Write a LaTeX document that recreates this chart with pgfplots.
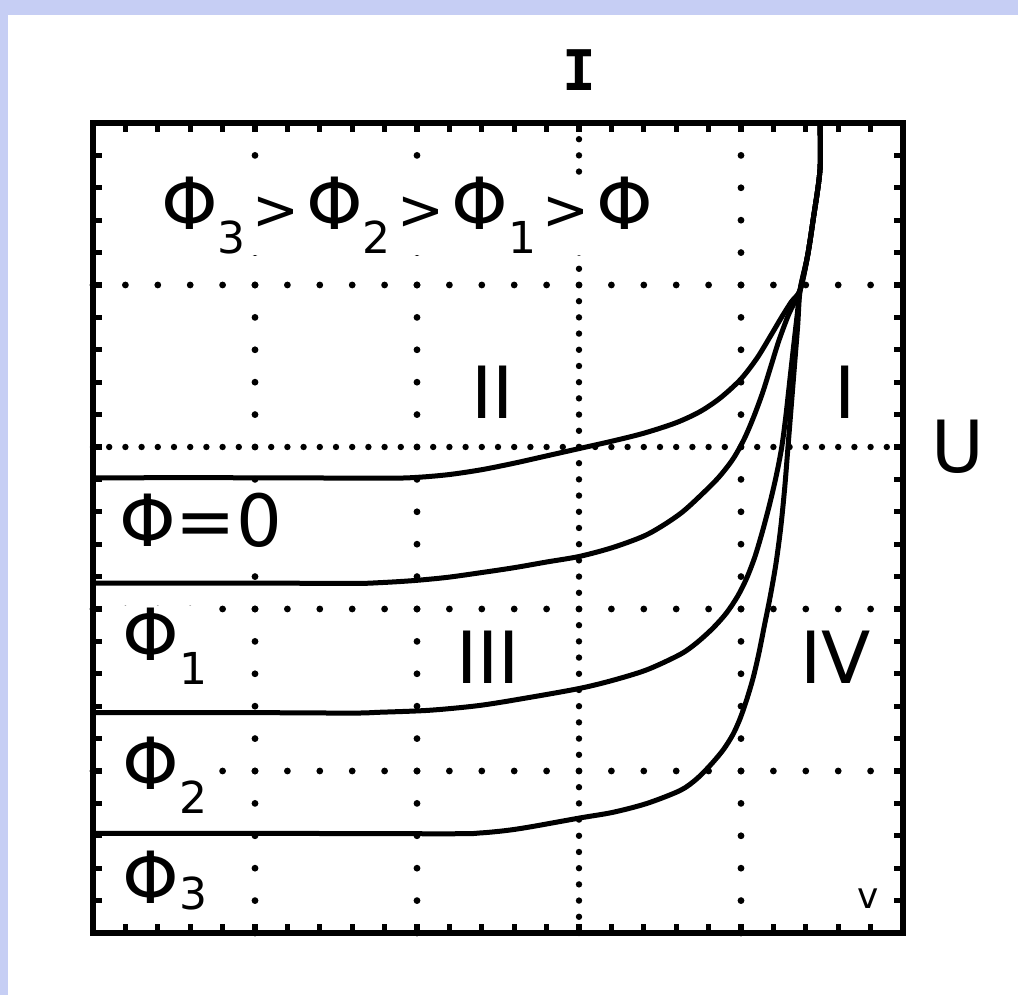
\documentclass[border=0pt]{standalone}
\usepackage{fontspec}
\setmainfont{DejaVu Sans}
\newfontfamily\monofont{DejaVu Sans Mono}
\usepackage{pgfplots}
\pgfplotsset{compat=1.18}
\definecolor{framebg}{RGB}{198,206,244}

\newcommand\lbl{\fontsize{18}{18}\selectfont}
\newcommand\sub[1]{\raisebox{-6pt}{\fontsize{11}{11}\selectfont #1}}
\newcommand\gt{\kern1.7pt{\fontsize{14}{14}\selectfont >}\kern1.7pt}

\begin{document}
\begin{tikzpicture}
% page with a light blue strip on the left and top
\fill[white] (-23.25pt,-15.5pt) rectangle (231.25pt,233.25pt);
\fill[framebg] (-23.25pt,-15.5pt) rectangle (-21.25pt,233.25pt);
\fill[framebg] (-23.25pt,229.5pt) rectangle (231.25pt,233.25pt);
\useasboundingbox (-23.25pt,-15.5pt) rectangle (231.25pt,233.25pt);
\begin{axis}[
  scale only axis, width=202.5pt, height=202.5pt,
  xmin=-6, xmax=4, ymin=-6, ymax=4,
  axis line style={line width=1.7pt},
  xtick={-4,-2,2}, ytick={-4,-2,2},
  minor xtick={-5.6,-5.2,...,3.7}, minor ytick={-5.6,-5.2,...,3.7},
  xticklabels={}, yticklabels={},
  tick align=inside,
  major tick length=2.3pt, minor tick length=2.3pt,
  every tick/.style={black, line width=1.3pt},
  grid=major,
  major grid style={black, line width=1.7pt, line cap=round, dash pattern=on 0pt off 8.1pt},
  extra x ticks={0}, extra y ticks={0},
  extra x tick labels={}, extra y tick labels={},
  extra tick style={major grid style={black, line width=1.6pt, line cap=round, dash pattern=on 0pt off 4.05pt}},
  clip=false,
]
% Phi = 0
\addplot[black, line width=1.25pt, smooth, tension=0.5] coordinates {
  (-6,-0.38) (-4,-0.38) (-2.4,-0.385) (-2,-0.375) (-1.6,-0.34) (-1.2,-0.28)
  (-0.8,-0.2) (-0.4,-0.11) (0,-0.02) (0.4,0.07) (0.8,0.17) (1.2,0.30)
  (1.5,0.44) (1.75,0.61) (2.0,0.84) (2.2,1.10) (2.37,1.38) (2.50,1.60)
  (2.62,1.79) (2.73,1.94)
  (2.82,2.35) (2.89,2.80) (2.975,3.42) (2.975,4)};
% Phi_1
\addplot[black, line width=1.25pt, smooth, tension=0.5] coordinates {
  (-6,-1.68) (-4,-1.68) (-2.8,-1.685) (-2.46,-1.675) (-2.05,-1.65) (-1.63,-1.61)
  (-1.2,-1.55) (-0.8,-1.49) (-0.4,-1.42) (0.01,-1.35) (0.42,-1.24) (0.80,-1.10)
  (1.05,-0.96) (1.28,-0.80) (1.50,-0.60) (1.72,-0.38) (1.90,-0.15) (2.04,0.10)
  (2.16,0.38) (2.27,0.68) (2.37,1.0) (2.47,1.32) (2.59,1.64) (2.73,1.94)
  (2.82,2.35) (2.89,2.80) (2.975,3.42) (2.975,4)};
% Phi_2
\addplot[black, line width=1.25pt, smooth, tension=0.5] coordinates {
  (-6,-3.28) (-4,-3.28) (-2.8,-3.285) (-2.46,-3.275) (-1.84,-3.25) (-1.22,-3.19)
  (-0.60,-3.09) (0.01,-2.98) (0.42,-2.88) (0.84,-2.75) (1.25,-2.56) (1.45,-2.42)
  (1.65,-2.24) (1.82,-2.05) (1.96,-1.84) (2.07,-1.62) (2.17,-1.36) (2.26,-1.06)
  (2.35,-0.72) (2.43,-0.38) (2.50,-0.02) (2.55,0.35) (2.60,0.80) (2.65,1.25)
  (2.69,1.60) (2.73,1.94)
  (2.82,2.35) (2.89,2.80) (2.975,3.42) (2.975,4)};
% Phi_3
\addplot[black, line width=1.25pt, smooth, tension=0.5] coordinates {
  (-6,-4.77) (-4,-4.77) (-1.6,-4.775) (-1.22,-4.765) (-0.9,-4.735) (-0.60,-4.69)
  (0.01,-4.58) (0.42,-4.51) (0.84,-4.40) (1.25,-4.24) (1.45,-4.10) (1.62,-3.93)
  (1.78,-3.74) (1.90,-3.55) (1.99,-3.35) (2.07,-3.12) (2.15,-2.85) (2.22,-2.55)
  (2.29,-2.20) (2.36,-1.85) (2.43,-1.45) (2.49,-1.0) (2.54,-0.5) (2.58,0.0)
  (2.62,0.5) (2.66,1.0) (2.70,1.5) (2.73,1.94)
  (2.82,2.35) (2.89,2.80) (2.975,3.42) (2.975,4)};

% axis names
\node[font=\monofont\bfseries\fontsize{14}{14}\selectfont] at (axis cs:0,4.65) {I};
\node[font=\lbl] at (axis cs:4.68,0) {U};
% quadrant numbers
\node[font=\lbl] at (axis cs:-1.07,0.68) {II};
\node[font=\lbl] at (axis cs:3.28,0.68) {I};
\node[font=\lbl] at (axis cs:-1.12,-2.59) {III};
\node[font=\lbl] at (axis cs:3.17,-2.59) {IV};
% flux labels
\node[font=\lbl, anchor=base west, inner sep=0pt, fill=white] at (axis cs:-5.17,2.68)
  {Φ\sub{3}\gt Φ\sub{2}\gt Φ\sub{1}\gt Φ};
\node[font=\lbl, fill=white, inner sep=0.5pt] at (axis cs:-4.67,-0.90) {Φ=0};
\node[font=\lbl, anchor=base west, inner sep=0.5pt, fill=white] at (axis cs:-5.67,-2.63) {Φ\sub{1}};
\node[font=\lbl, anchor=base west, inner sep=0.5pt, fill=white] at (axis cs:-5.67,-4.23) {Φ\sub{2}};
\node[font=\lbl, anchor=base west, inner sep=0.5pt, fill=white] at (axis cs:-5.67,-5.63) {Φ\raisebox{-1.5pt}{\fontsize{11}{11}\selectfont 3}};
\node[font=\fontsize{9}{9}\selectfont] at (axis cs:3.57,-5.57) {v};
\end{axis}
\end{tikzpicture}
\end{document}
